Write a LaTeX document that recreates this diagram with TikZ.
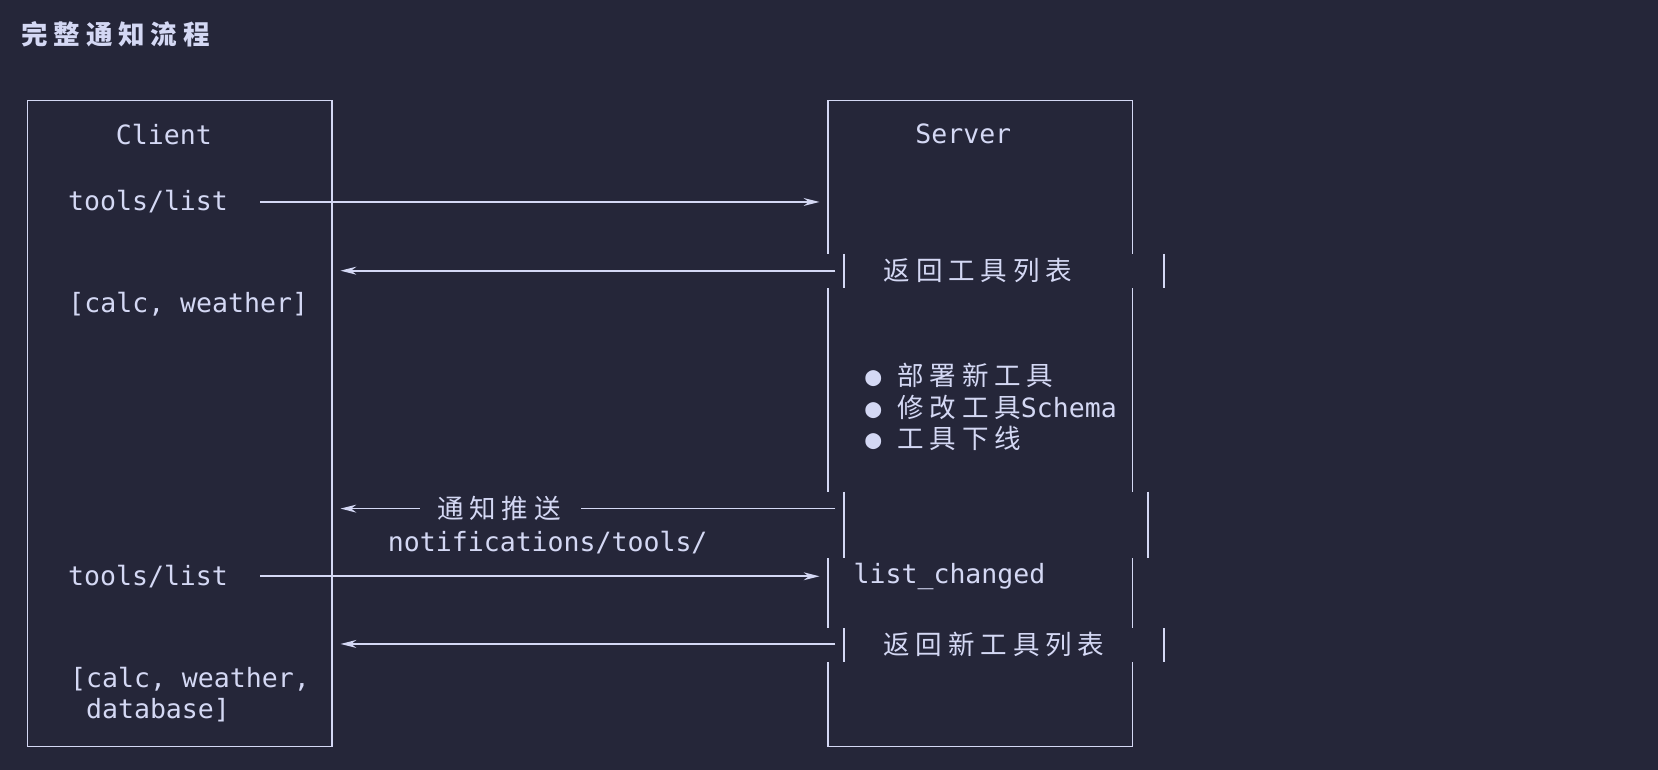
\documentclass[tikz,border=0pt]{standalone}
\usepackage{fontspec}
\setmonofont{DejaVu Sans Mono}
\newfontfamily\cjk[LetterSpace=22]{Noto Sans CJK SC}
\usetikzlibrary{arrows.meta}
\definecolor{bgc}{HTML}{252639}
\definecolor{fgc}{HTML}{D4D8F4}
\tikzset{
  lbl/.style={text=fgc,font=\ttfamily\fontsize{15.1pt}{17pt}\selectfont,inner sep=0pt},
  msg/.style={draw=fgc,line width=1pt,-{Stealth[length=9pt,width=4.5pt]}},
  edge/.style={draw=fgc,line width=1pt},
}
\begin{document}
\begin{tikzpicture}[x=0.02115cm,y=-0.02115cm]
    \fill[bgc] (0,0) rectangle (1568,728);
    \node (title) [lbl,anchor=west,font=\cjk\bfseries\fontsize{15.1pt}{17pt}\selectfont] at (20,32) {完整通知流程};
    % boxes
    \draw[edge] (26,95) rectangle (314,706);
    \draw[edge] (783,95) rectangle (1071,706);
    \fill[bgc] (775,240) rectangle (1080,272);
    \fill[bgc] (775,465) rectangle (1080,528);
    \fill[bgc] (775,594) rectangle (1080,626);
    \foreach \ya/\yb/\xr in {240/272/1101,465/528/1086,594/626/1101}
        \draw[edge] (798,\ya) -- (798,\yb) (\xr,\ya) -- (\xr,\yb);
    % labels
    \node (client) [lbl] at (155,127) {Client};
    \node (server) [lbl] at (911,127) {Server};
    \node (req1) [lbl] at (140,191) {tools/list};
    \node (res1) [lbl] at (178,288) {[calc, weather]};
    \node (ret1) [lbl,font=\cjk\fontsize{15.1pt}{17pt}\selectfont] at (925,256) {返回工具列表};
    \node (chg) [lbl,anchor=west,align=left] at (818,385)
        {●\ {\cjk 部署新工具}\\[1pt]●\ {\cjk 修改工具}Schema\\[1pt]●\ {\cjk 工具下线}};
    \node (push) [lbl,font=\cjk\fontsize{15.1pt}{17pt}\selectfont] at (472,481) {通知推送};
    \node (ntf) [lbl] at (518,513) {notifications/tools/};
    \node (lc) [lbl,anchor=west] at (807,545) {list\_changed};
    \node (req2) [lbl] at (140,545) {tools/list};
    \node (ret2) [lbl,font=\cjk\fontsize{15.1pt}{17pt}\selectfont] at (940,609) {返回新工具列表};
    \node (res2) [lbl,anchor=west,align=left] at (66,657) {[calc, weather,\\[1pt]\ database]};
    % messages
    \coordinate (c1) at (246,191); \coordinate (s1) at (775,191);
    \coordinate (s2) at (790,256); \coordinate (c2) at (322,256);
    \coordinate (s3) at (790,481); \coordinate (m3) at (549,481);
    \coordinate (n3) at (397,481); \coordinate (c3) at (322,481);
    \coordinate (c4) at (246,545); \coordinate (s4) at (775,545);
    \coordinate (s5) at (790,609); \coordinate (c5) at (322,609);
    \draw[msg] (c1) -- (s1);
    \draw[msg] (s2) -- (c2);
    \draw[edge] (s3) -- (m3);
    \draw[msg] (n3) -- (c3);
    \draw[msg] (c4) -- (s4);
    \draw[msg] (s5) -- (c5);
\end{tikzpicture}
\end{document}
